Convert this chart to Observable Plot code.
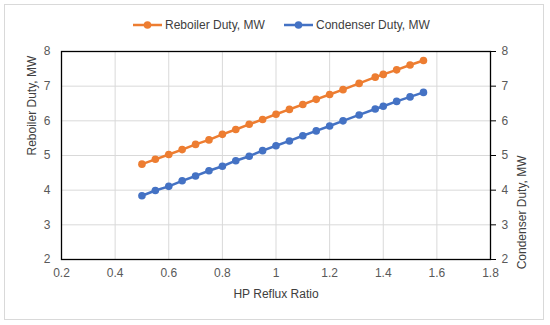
<!DOCTYPE html>
<html>
<head>
<meta charset="utf-8">
<script src="https://cdn.jsdelivr.net/npm/d3@7"></script>
<script src="https://cdn.jsdelivr.net/npm/@observablehq/plot@0.6"></script>
<style>
  html, body { margin: 0; padding: 0; background: #fff; }
  #wrap { position: relative; width: 550px; height: 325px; font-family: "Liberation Sans", Arial, sans-serif; }
  #border { position: absolute; left: 4px; top: 4px; width: 540px; height: 316px; border: 1px solid #d9d9d9; box-sizing: border-box; }
  #chart { position: absolute; left: 0; top: 0; }
  #legend { position: absolute; top: 16px; left: 0; width: 550px; height: 18px; font-size: 12px; color: #404040; }
  .li { position: absolute; top: 0; display: flex; align-items: center; height: 18px; white-space: nowrap; }
  .li svg { margin-right: 3px; }
</style>
</head>
<body>
<div id="wrap">
  <div id="border"></div>
  <div id="chart"></div>
  <div id="legend"></div>
</div>
<script>
const refluxRatio = [0.5, 0.55, 0.6, 0.65, 0.7, 0.75, 0.8, 0.85, 0.9, 0.95, 1.0, 1.05, 1.1, 1.15, 1.2, 1.25, 1.31, 1.37, 1.4, 1.45, 1.5, 1.55];
const reboilerDuty = [4.75, 4.89, 5.03, 5.17, 5.32, 5.45, 5.61, 5.75, 5.90, 6.04, 6.19, 6.33, 6.47, 6.62, 6.76, 6.90, 7.08, 7.26, 7.34, 7.47, 7.61, 7.74];
const condenserDuty = [3.84, 3.99, 4.11, 4.27, 4.41, 4.56, 4.69, 4.85, 4.98, 5.14, 5.28, 5.42, 5.57, 5.71, 5.85, 6.00, 6.17, 6.34, 6.42, 6.56, 6.69, 6.82];
const xTicks = [0.2, 0.4, 0.6, 0.8, 1, 1.2, 1.4, 1.6, 1.8];
const yTicks = [2, 3, 4, 5, 6, 7, 8];
const seriesNames = ["Reboiler Duty, MW", "Condenser Duty, MW"];
const seriesColors = ["#ED7D31", "#4472C4"];

const reb = refluxRatio.map((x, i) => ({x, y: reboilerDuty[i]}));
const con = refluxRatio.map((x, i) => ({x, y: condenserDuty[i]}));

const textColor = "#595959";

const plot = Plot.plot({
  width: 550,
  height: 325,
  marginLeft: 61,
  marginRight: 60,
  marginTop: 51,
  marginBottom: 66,
  style: { fontFamily: "Liberation Sans, Arial, sans-serif", fontSize: "12px", color: textColor, background: "transparent" },
  x: { domain: [0.2, 1.8] },
  y: { domain: [2, 8] },
  marks: [
    Plot.gridX(xTicks, { stroke: "#d9d9d9", strokeOpacity: 1, strokeWidth: 1 }),
    Plot.gridY(yTicks, { stroke: "#d9d9d9", strokeOpacity: 1, strokeWidth: 1 }),
    Plot.axisX(xTicks, { tickSize: 0, tickPadding: 9, fill: textColor, tickFormat: d => String(d), fontSize: 12, label: null }),
    Plot.axisY(yTicks, { anchor: "left", tickSize: 0, tickPadding: 11, fill: textColor, fontSize: 12, label: null }),
    Plot.axisY(yTicks, { anchor: "right", tickSize: 5, tickPadding: 6, stroke: "black", fill: textColor, fontSize: 12, label: null }),
    Plot.frame({ stroke: "black", strokeWidth: 1.3 }),
    Plot.line(reb, { x: "x", y: "y", stroke: seriesColors[0], strokeWidth: 2.5 }),
    Plot.dot(reb, { x: "x", y: "y", fill: seriesColors[0], r: 3.8 }),
    Plot.line(con, { x: "x", y: "y", stroke: seriesColors[1], strokeWidth: 2.5 }),
    Plot.dot(con, { x: "x", y: "y", fill: seriesColors[1], r: 3.8 }),
    Plot.text(["HP Reflux Ratio"], { frameAnchor: "bottom", dy: 38, fill: "#404040", fontSize: 12 }),
    Plot.text([seriesNames[0]], { frameAnchor: "left", dx: -29, rotate: -90, fill: "#404040", fontSize: 12 }),
    Plot.text([seriesNames[1]], { frameAnchor: "right", dx: 32, rotate: -90, fill: "#404040", fontSize: 12 })
  ]
});
document.getElementById("chart").appendChild(plot);

const legend = document.getElementById("legend");
const lefts = [133, 284];
seriesNames.forEach((name, i) => {
  const item = document.createElement("div");
  item.className = "li";
  item.style.left = lefts[i] + "px";
  item.innerHTML = `<svg width="29" height="12"><line x1="0" y1="6" x2="29" y2="6" stroke="${seriesColors[i]}" stroke-width="2.5"/><circle cx="14.5" cy="6" r="3.8" fill="${seriesColors[i]}"/></svg><span>${name}</span>`;
  legend.appendChild(item);
});
</script>
</body>
</html>
